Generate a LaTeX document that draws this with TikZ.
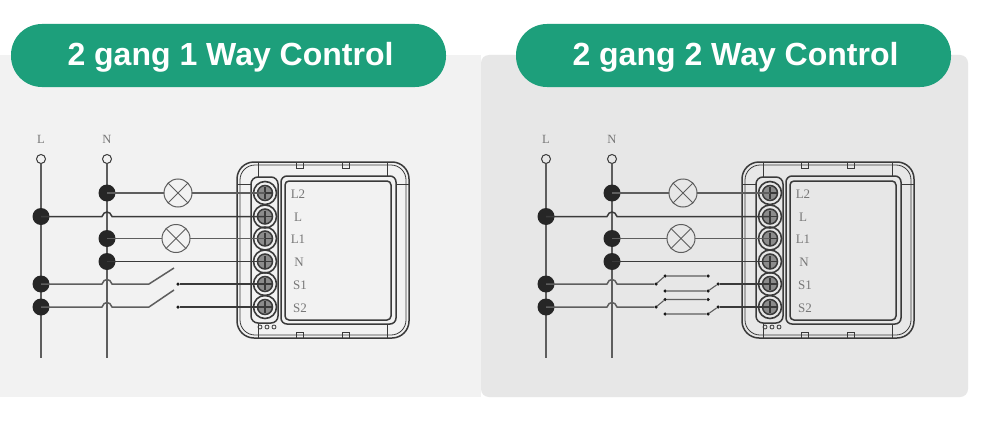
\documentclass[tikz,border=0pt]{standalone}
\usepackage{fontspec}
\setmainfont{Liberation Serif}
\newfontfamily\titlefont{Liberation Sans}
\definecolor{pillgreen}{HTML}{1D9F7B}
\definecolor{panelA}{HTML}{F2F2F2}
\definecolor{panelB}{HTML}{E7E7E7}
\definecolor{wirecol}{HTML}{5E5E5E}
\definecolor{darkline}{HTML}{3A3A3A}
\definecolor{labelcol}{HTML}{777777}
\tikzset{
  panelbox/.style={inner sep=0pt,outer sep=0pt,rounded corners=8pt},
  pill/.style={fill=pillgreen,draw=none,rounded corners=31pt,minimum width=435pt,minimum height=63pt,inner sep=0pt,text=white,font=\titlefont\bfseries\fontsize{32}{34}\selectfont},
  wire/.style={draw=wirecol,line width=1.5pt},
  darkwire/.style={draw=darkline,line width=1.5pt},
  bus/.style={draw=wirecol,line width=1.8pt},
  terminal/.style={circle,draw=darkline,fill=none,line width=1pt,minimum size=9pt,inner sep=0pt,outer sep=0pt},
  junction/.style={circle,fill=black!85,draw=none,minimum size=17pt,inner sep=0pt,outer sep=0pt},
  lamp/.style={circle,draw=wirecol,line width=1pt,minimum size=28pt,inner sep=0pt,outer sep=0pt},
  contact/.style={circle,fill=black!90,draw=none,minimum size=3.5pt,inner sep=0pt,outer sep=0pt},
  busname/.style={text=labelcol,font=\fontsize{12.5}{13}\selectfont,inner sep=0pt},
  termname/.style={text=labelcol,font=\fontsize{13}{13}\selectfont,inner sep=0pt},
  casing/.style={draw=darkline,line width=1.5pt},
  thin case/.style={draw=darkline,line width=0.8pt},
  screwring/.style={circle,draw=darkline,line width=1.6pt,fill=none,minimum size=23pt,inner sep=0pt,outer sep=0pt},
}
\newcommand{\hopover}{.. controls +(2,-6) and +(-2,-6) .. ++(10,0)}
% common drawing of one wiring panel: buses, junctions, lamps, device
\newcommand{\commonpart}{%
  \coordinate (Lend) at (41,358);
  \coordinate (Nend) at (107,358);
  \node[busname] at (41,139) {L};
  \node[busname] at (107,139) {N};
  \node[terminal] (Ltop) at (41,159) {};
  \node[terminal] (Ntop) at (107,159) {};
  \draw[bus] (Ltop) -- (Lend);
  \draw[bus] (Ntop) -- (Nend);
  % device
  \draw[casing,rounded corners=17pt] (237,162) rectangle (409,338);
  \draw[thin case,rounded corners=15pt] (240,165) rectangle (406,335);
  \draw[casing,rounded corners=7pt] (251,177) rectangle (278,323);
  \draw[casing,rounded corners=6pt] (281,176) rectangle (396,324);
  \draw[casing,rounded corners=4pt] (285,181) rectangle (391,320);
  \draw[thin case] (258,162) -- (258,177) (387,162) -- (387,176)
    (258,323) -- (258,338) (387,324) -- (387,338)
    (237,184) -- (251,184) (396,184) -- (409,184);
  \foreach \tx in {300,346}{
    \draw[thin case] (\tx-3.5,162) -- (\tx-3.5,168) -- (\tx+3.5,168) -- (\tx+3.5,162);
    \draw[thin case] (\tx-3.5,338) -- (\tx-3.5,332) -- (\tx+3.5,332) -- (\tx+3.5,338);
  }
  \foreach \lx in {260,267,274}{ \draw[thin case] (\lx,327) circle (2pt); }
  \foreach \nm/\sy/\txt/\tx in {a/193/L2/298,b/216.5/L/298,c/238.5/L1/298,d/261.5/N/299,e/284/S1/300,f/307/S2/300}{
    \node[screwring] (scr\nm) at (265,\sy) {};
    \draw[darkline,line width=1.5pt,fill=black!45] (265,\sy) circle (7.5pt);
    \draw[darkline,line width=1.2pt] (258,\sy) -- (272,\sy) (265,\sy-6) -- (265,\sy+6);
    \node[termname] at (\tx,\sy+1) {\txt};
  }
  % junctions and lamps
  \node[junction] (ja) at (107,193) {};
  \node[junction] (jb) at (41,216.5) {};
  \node[junction] (jc) at (107,238.5) {};
  \node[junction] (jd) at (107,261.5) {};
  \node[junction] (je) at (41,284) {};
  \node[junction] (jf) at (41,307) {};
  \node[lamp] (la) at (178,193) {};
  \node[lamp] (lb) at (176,238.5) {};
  \draw[wire,line width=1pt] (la.45) -- (la.225) (la.135) -- (la.315);
  \draw[wire,line width=1pt] (lb.45) -- (lb.225) (lb.135) -- (lb.315);
  \draw[wire] (ja.center) -- (la.west);
  \draw[wire] (la.east) -- (scra.center);
  \draw[wire] (jc.center) -- (lb.west);
  \draw[wire] (lb.east) -- (scrc.center);
  \draw[darkwire] (jb.center) -- ++(61,0) \hopover -- (scrb.center);
  \draw[darkwire] (jd.center) -- (scrd.center);
}
\begin{document}
\begin{tikzpicture}[x=1pt,y=-1pt]
\useasboundingbox (0,0) rectangle (987,420);
\fill[white] (0,0) rectangle (987,420);
\fill[panelA] (0,55) -- (481,55) -- (481,397) -- (0,397) -- cycle;
\fill[panelB,panelbox] (481,55) rectangle (968,397);
\node[pill] (titleA) at (228.5,55.5) {\hspace*{4pt}\raisebox{-9.5pt}[0pt][0pt]{2 gang 1 Way Control}};
\node[pill] (titleB) at (733.5,55.5) {\hspace*{4pt}\raisebox{-9.5pt}[0pt][0pt]{2 gang 2 Way Control}};

% left panel
\commonpart
\coordinate (sa) at (149,284);
\coordinate (sb) at (149,307);
\coordinate (ta) at (174,268);
\coordinate (tb) at (174,290);
\node[contact] (ca) at (178,284) {};
\node[contact] (cb) at (178,307) {};
\draw[wire] (je.center) -- ++(61,0) \hopover -- (sa) -- (ta);
\draw[wire] (jf.center) -- ++(61,0) \hopover -- (sb) -- (tb);
\draw[darkwire] (ca) -- (scre.center);
\draw[darkwire] (cb) -- (scrf.center);

% right panel
\begin{scope}[xshift=505pt]
\commonpart
\node[contact] (p1) at (151,284) {};
\node[contact] (p2) at (160,276) {};
\node[contact] (p3) at (203,276) {};
\node[contact] (p4) at (160,291) {};
\node[contact] (p5) at (203,291) {};
\node[contact] (p6) at (213,284) {};
\node[contact] (q1) at (151,307) {};
\node[contact] (q2) at (160,299.5) {};
\node[contact] (q3) at (203,299.5) {};
\node[contact] (q4) at (160,314) {};
\node[contact] (q5) at (203,314) {};
\node[contact] (q6) at (213,307) {};
\draw[wire] (je.center) -- ++(61,0) \hopover -- (p1);
\draw[wire,line width=1.1pt] (p1) -- (p2) -- (p3);
\draw[wire,line width=1.1pt] (p4) -- (p5) -- (p6);
\draw[darkwire] (p6) -- (scre.center);
\draw[wire] (jf.center) -- ++(61,0) \hopover -- (q1);
\draw[wire,line width=1.1pt] (q1) -- (q2) -- (q3);
\draw[wire,line width=1.1pt] (q4) -- (q5) -- (q6);
\draw[darkwire] (q6) -- (scrf.center);
\end{scope}
\end{tikzpicture}
\end{document}
